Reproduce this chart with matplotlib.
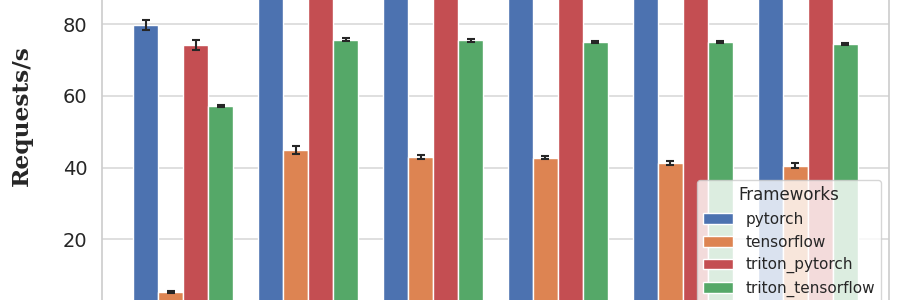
import numpy as np
import matplotlib.pyplot as plt

frameworks = ["pytorch", "tensorflow", "triton_pytorch", "triton_tensorflow"]
colors = ["#4C72B0", "#DD8452", "#C44E52", "#55A868"]
concurrency = ["1", "2", "4", "8", "16", "32"]

# mean requests/s and error per framework (pytorch / triton_pytorch mostly clipped)
pytorch = [79.8, 101.0, 100.4, 99.6, 100.2, 99.5]
pytorch_err = [1.3, 1.5, 1.4, 1.3, 1.2, 1.4]
tensorflow = [5.4, 44.9, 43.0, 42.8, 41.3, 40.5]
tensorflow_err = [0.3, 1.0, 0.6, 0.45, 0.55, 0.7]
triton_pytorch = [74.3, 102.5, 101.8, 101.0, 102.0, 101.5]
triton_pytorch_err = [1.4, 1.2, 1.1, 1.0, 1.2, 1.1]
triton_tensorflow = [57.2, 75.7, 75.5, 75.0, 75.1, 74.5]
triton_tensorflow_err = [0.2, 0.5, 0.5, 0.3, 0.2, 0.2]
yticks = [20, 40, 60, 80]

means = [pytorch, tensorflow, triton_pytorch, triton_tensorflow]
errs = [pytorch_err, tensorflow_err, triton_pytorch_err, triton_tensorflow_err]

plt.rcParams["font.family"] = ["DejaVu Sans"]

fig = plt.figure(figsize=(9, 3), dpi=100)
# axes runs past the top and bottom edge, the picture is a crop of the middle
ax = fig.add_axes([102 / 900, -11 / 300, 787 / 900, 390 / 300])

x = np.arange(len(concurrency))
width = 0.2
for k, name in enumerate(frameworks):
    offset = (k - 1.5) * width
    ax.bar(x + offset, means[k], width, yerr=errs[k], color=colors[k], label=name,
           edgecolor="white", linewidth=1.0, zorder=2,
           error_kw=dict(ecolor="0.15", elinewidth=1.5, capsize=3, capthick=1.5))

ax.set_xlim(-0.65, 5.65)
ax.set_ylim(0, 108.8)
ax.set_xticks(x)
ax.set_xticklabels(concurrency)
# tick labels under the axes fall outside the crop
ax.tick_params(axis="x", labelbottom=False)
ax.set_yticks(yticks)
ax.tick_params(axis="both", length=0, labelsize=14, labelcolor="0.15", pad=10.5)

ax.grid(axis="y", color="0.85", linewidth=1.2, zorder=0)
ax.set_axisbelow(True)
for s in ax.spines.values():
    s.set_color("0.8")
    s.set_linewidth(1.2)

ax.set_ylabel("Requests/s", fontfamily="DejaVu Serif", fontweight="bold", fontsize=16.8, color="0.15")
ax.yaxis.set_label_coords(-0.088, 0.5)

leg = ax.legend(title="Frameworks", loc="lower right", fontsize=11, title_fontsize=12,
                framealpha=0.8, edgecolor="0.8")
for t in leg.get_texts():
    t.set_color("0.15")
leg.get_title().set_color("0.15")

fig.savefig("out.png", dpi=100)
